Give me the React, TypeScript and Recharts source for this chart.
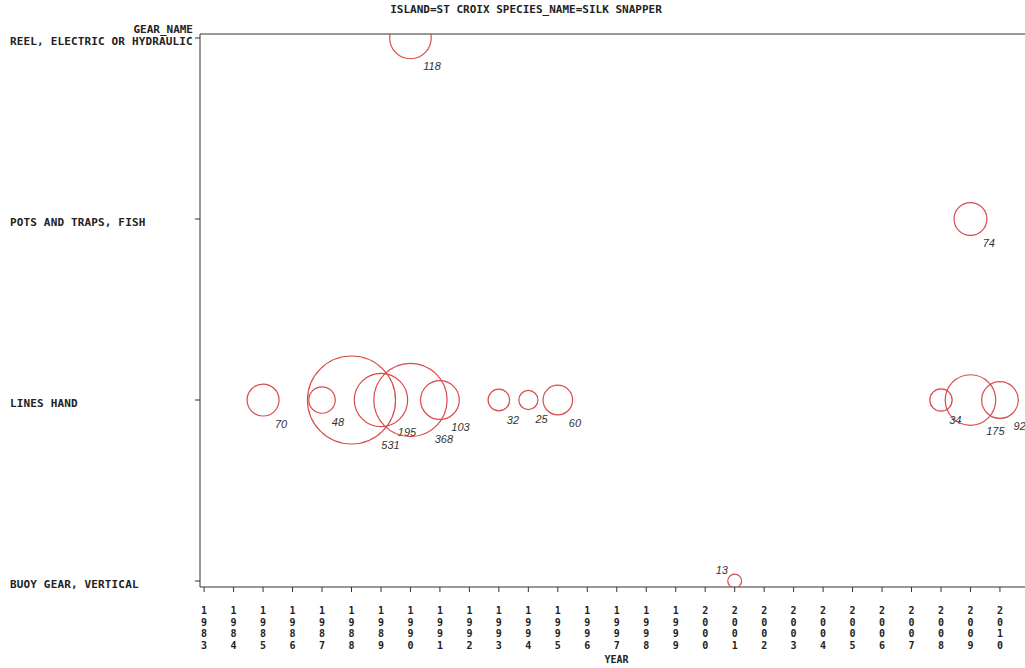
import React from 'react';
import { ScatterChart, Scatter, XAxis, YAxis, ReferenceLine } from 'recharts';

// gear rows, bottom to top
const gearNames = ['BUOY GEAR, VERTICAL', 'LINES HAND', 'POTS AND TRAPS, FISH', 'REEL, ELECTRIC OR HYDRAULIC'];

const buoyYears = [2001];
const buoyValues = [13];
const linesYears = [1985, 1987, 1988, 1989, 1990, 1991, 1993, 1994, 1995, 2008, 2009, 2010];
const linesValues = [70, 48, 531, 195, 368, 103, 32, 25, 60, 34, 175, 92];
const potsYears = [2009];
const potsValues = [74];
const reelYears = [1990];
const reelValues = [118];

const yearTicks = Array.from({ length: 28 }, (_, i) => 1983 + i);

const build = (gear: number, years: number[], values: number[]) =>
  years.map((year, i) => ({ year, gear, value: values[i] }));

const data = [
  ...build(0, buoyYears, buoyValues),
  ...build(1, linesYears, linesValues),
  ...build(2, potsYears, potsValues),
  ...build(3, reelYears, reelValues),
];

const W = 1025;
const H = 668;
const PLOT_BOTTOM = 587;
const RED = '#d84a4a';
const AXIS = '#333';
const SAS_FONT = '"DejaVu Sans Mono", monospace';
const Y_MAX = 3.022;

// radius grows with sqrt of the value (bubble area ~ value)
const radiusOf = (v: number) => 1.91 * Math.sqrt(v);

const Bubble = (props: any) => {
  const { cx, cy, payload } = props;
  if (cx == null || cy == null) return null;
  const r = radiusOf(payload.value);
  let lx = cx + r * 0.75 + 6;
  let ly = cy + r * 0.75 + 16;
  if (ly > PLOT_BOTTOM - 2) {
    // no room below the bubble, put the label above-left
    lx = cx - r - 6;
    ly = cy - r + 0;
  }
  return (
    <g>
      <circle cx={cx} cy={cy} r={r} fill="none" stroke={RED} strokeWidth={1.2} />
      <text x={lx} y={ly} textAnchor="middle" fontSize={11} fontStyle="italic"
        fontFamily="'Liberation Sans', Arial, sans-serif" fill="#333">
        {payload.value}
      </text>
    </g>
  );
};

const YearTick = (props: any) => {
  const { x, y, payload } = props;
  const digits = String(payload.value).split('');
  return (
    <text x={x} y={y + 20} textAnchor="middle" fontSize={10} fontWeight="bold"
      fontFamily={SAS_FONT} fill="#222">
      {digits.map((d, i) => (
        <tspan key={i} x={x} dy={i === 0 ? 0 : 11.5}>{d}</tspan>
      ))}
    </text>
  );
};

const GearTick = (props: any) => {
  const { y, payload } = props;
  return (
    <text x={10} y={y + 7} textAnchor="start" fontSize={11} fontWeight="bold"
      letterSpacing={0.15} fontFamily={SAS_FONT} fill="#222">
      {gearNames[payload.value]}
    </text>
  );
};

const App: React.FC = () => {
  return (
    <div style={{ position: 'absolute', left: 0, top: 0, width: W, height: H, background: '#fff' }}>
      <div style={{
        position: 'absolute', left: 0, top: 3, width: 1052, textAlign: 'center',
        fontFamily: SAS_FONT, fontSize: 11, fontWeight: 'bold', color: '#222',
      }}>
        ISLAND=ST CROIX SPECIES_NAME=SILK SNAPPER
      </div>
      <ScatterChart width={W} height={H} margin={{ top: 34, right: 0, bottom: 0, left: 0 }}>
        <XAxis
          type="number"
          dataKey="year"
          domain={[1982.86, 2010.85]}
          ticks={yearTicks}
          interval={0}
          allowDataOverflow
          height={81}
          tickSize={5}
          tick={<YearTick />}
          stroke={AXIS}
          label={(p: any) => {
            const vb = p.viewBox;
            return (
              <text x={vb.x + vb.width / 2 + 4} y={663} textAnchor="middle" fontSize={10}
                fontWeight="bold" fontFamily={SAS_FONT} fill="#222">YEAR</text>
            );
          }}
        />
        <YAxis
          type="number"
          dataKey="gear"
          domain={[-0.033, Y_MAX]}
          ticks={[0, 1, 2, 3]}
          interval={0}
          allowDataOverflow
          width={200}
          tickSize={5}
          tick={<GearTick />}
          stroke={AXIS}
          label={(p: any) => {
            const vb = p.viewBox;
            return (
              <text x={193} y={vb.y - 1} textAnchor="end" fontSize={11}
                fontWeight="bold" fontFamily={SAS_FONT} fill="#222">GEAR_NAME</text>
            );
          }}
        />
        <ReferenceLine y={Y_MAX} stroke="#999" strokeWidth={2} />
        <Scatter data={data} shape={<Bubble />} isAnimationActive={false} />
      </ScatterChart>
    </div>
  );
};

export default App;
